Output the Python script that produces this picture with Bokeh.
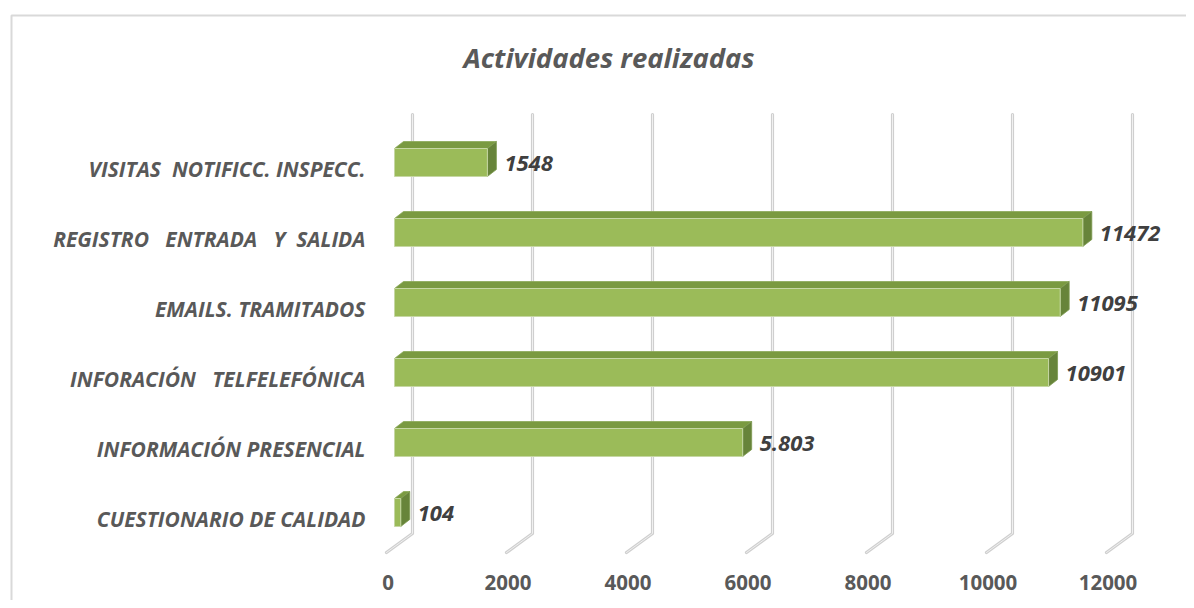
from bokeh.plotting import figure
from bokeh.models import Range1d, ColumnDataSource
from bokeh.core.properties import value
from bokeh.embed import file_html
from bokeh.resources import INLINE

# ---------------- data ----------------
title_text = "Actividades realizadas"
categories = [
    "CUESTIONARIO DE CALIDAD",
    "INFORMACIÓN PRESENCIAL",
    "INFORACIÓN \u00a0\u00a0TELFELEFÓNICA",
    "EMAILS. TRAMITADOS",
    "REGISTRO \u00a0\u00a0ENTRADA \u00a0\u00a0Y \u00a0SALIDA",
    "VISITAS \u00a0NOTIFICC. INSPECC.",
]
values = [104, 5803, 10901, 11095, 11472, 1548]
value_labels = ["104", "5.803", "10901", "11095", "11472", "1548"]
ticks = [0, 2000, 4000, 6000, 8000, 10000, 12000]
tick_labels = ["0", "2000", "4000", "6000", "8000", "10000", "12000"]

# ---------------- geometry (pixel scale helpers) ----------------
W, H = 1186, 600
PX_PER_UNIT = 0.06          # horizontal pixels per value unit
PX_PER_CAT = 70.0           # vertical pixels per category
UX = 1.0 / PX_PER_UNIT      # value units per pixel
UY = 1.0 / PX_PER_CAT       # category units per pixel
X0 = 394                    # reference pixel of value 0 (front plane)
Y0 = 512                    # reference pixel of first category centre
OFF = 0                     # plot origin in the picture


def xr(px):  # reference pixel -> x data
    return (px - X0) * UX


def yr(py):  # reference pixel -> y data
    return (Y0 - py) * UY


p = figure(
    width=W, height=H,
    x_range=Range1d(xr(OFF), xr(OFF + W)),
    y_range=Range1d(yr(OFF + H), yr(OFF)),
    output_backend="svg", toolbar_location=None,
    min_border=0, min_border_left=0, min_border_right=0,
    min_border_top=0, min_border_bottom=0,
)
p.axis.visible = False
p.xgrid.visible = False
p.ygrid.visible = False
p.outline_line_color = None
p.background_fill_color = "white"
p.border_fill_color = "white"

# chart area border (top and left visible)
p.line(x=[xr(11), xr(11), xr(1300)], y=[yr(700), yr(15), yr(15)],
       line_color="#d9d9d9", line_width=2)

# ---------------- 3D gridlines on back wall ----------------
BACK = 18 * UX
grid_xs, grid_ys = [], []
for t in ticks:
    grid_xs.append([t - 8 * UX, t + BACK, t + BACK])
    grid_ys.append([yr(552), yr(533), yr(114)])
p.multi_line(xs=grid_xs, ys=grid_ys, line_color="#cfcfcf", line_width=3.2,
             line_join="round", line_cap="round")
p.multi_line(xs=grid_xs, ys=grid_ys, line_color="#f0f0f0", line_width=1,
             line_join="round", line_cap="round")

# ---------------- 3D bars ----------------
ypos = list(range(len(categories)))
HALF = 14 * UY
DX = 9 * UX
DY = 7 * UY

top_xs, top_ys, side_xs, side_ys = [], [], [], []
for v, y in zip(values, ypos):
    top_xs.append([0, v, v + DX, DX])
    top_ys.append([y + HALF, y + HALF, y + HALF + DY, y + HALF + DY])
    side_xs.append([v, v + DX, v + DX, v])
    side_ys.append([y - HALF, y - HALF + DY, y + HALF + DY, y + HALF])

p.patches(xs=top_xs, ys=top_ys, fill_color="#7a9a41", line_color="#8aa858",
          line_width=0.8)
p.patches(xs=side_xs, ys=side_ys, fill_color="#67843a", line_color="#7d9a50",
          line_width=0.8)
src = ColumnDataSource(dict(
    y=ypos, v=values, bottom=[y - HALF for y in ypos], top=[y + HALF for y in ypos]))
p.quad(left=0, right="v", bottom="bottom", top="top", source=src,
       fill_color="#9bbb59", line_color="#c6d7a4", line_width=1)

# ---------------- value labels ----------------
p.text(x=[v + DX + 8 * UX for v in values], y=[y - 1 * UY for y in ypos],
       text=value_labels, text_font=value("Open Sans"), text_font_size="22px",
       text_font_style="bold italic", text_color="#404040",
       text_align="left", text_baseline="middle")

# ---------------- category labels ----------------
p.text(x=[xr(365)] * len(categories), y=[y - 6 * UY for y in ypos],
       text=categories, text_font=value("Open Sans"), text_font_size="21px",
       text_font_style="bold italic", text_color="#595959",
       text_align="right", text_baseline="middle")

# ---------------- tick labels ----------------
p.text(x=[t - 6.5 * UX for t in ticks], y=[yr(582)] * len(ticks),
       text=tick_labels, text_font=value("Open Sans"), text_font_size="20.5px",
       text_font_style="bold", text_color="#595959",
       text_align="center", text_baseline="middle")

# ---------------- title ----------------
p.text(x=[xr(608.5)], y=[yr(57)], text=[title_text],
       text_font=value("Open Sans"), text_font_size="27.5px",
       text_font_style="bold italic", text_color="#595959",
       text_align="center", text_baseline="middle")

open("out.html", "w").write(file_html(p, INLINE))
